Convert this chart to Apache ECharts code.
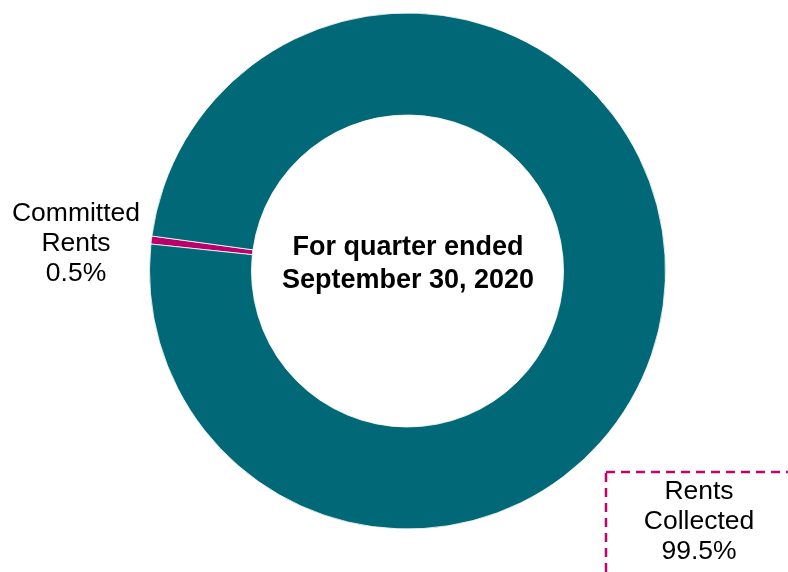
<!DOCTYPE html>
<html>
<head>
<meta charset="utf-8">
<script src="https://cdn.jsdelivr.net/npm/echarts@6/dist/echarts.min.js"></script>
<style>html,body{margin:0;padding:0;background:#fff}#c{width:788px;height:572px}</style>
</head>
<body>
<div id="c"></div>
<script>
var categories = ['Committed Rents', 'Rents Collected'];
var labelLines = [['Committed', 'Rents'], ['Rents', 'Collected']];
var values = [0.5, 99.5];
var colors = ['#BA006A', '#006877'];
var centerText = ['For quarter ended', 'September 30, 2020'];

var chart = echarts.init(document.getElementById('c'));
var font = '"Liberation Sans", Arial, sans-serif';
function lbl(i) { return labelLines[i].concat([values[i] + '%']).join('\n'); }
chart.setOption({
  animation: false,
  series: [{
    type: 'pie',
    center: [407.5, 271],
    radius: [156, 258],
    startAngle: 174,
    clockwise: true,
    label: { show: false },
    labelLine: { show: false },
    itemStyle: { borderColor: '#ffffff', borderWidth: 0.8 },
    data: categories.map(function (c, i) {
      return { name: c, value: values[i], itemStyle: { color: colors[i] } };
    })
  }],
  graphic: [
    { type: 'text', x: 408, y: 264, z: 10,
      style: { text: centerText.join('\n'), font: 'bold 27px ' + font, fill: '#000',
               align: 'center', verticalAlign: 'middle', lineHeight: 33 } },
    { type: 'text', x: 76, y: 244, z: 10,
      style: { text: lbl(0), font: '26.5px ' + font, fill: '#000',
               align: 'center', verticalAlign: 'middle', lineHeight: 30 } },
    { type: 'text', x: 699, y: 522, z: 10,
      style: { text: lbl(1), font: '26.5px ' + font, fill: '#000',
               align: 'center', verticalAlign: 'middle', lineHeight: 30 } },
    { type: 'rect', z: 5,
      shape: { x: 606, y: 472, width: 200, height: 120 },
      style: { fill: 'none', stroke: '#C4006C', lineWidth: 2.5, lineDash: [9, 6] } }
  ]
});
</script>
</body>
</html>
